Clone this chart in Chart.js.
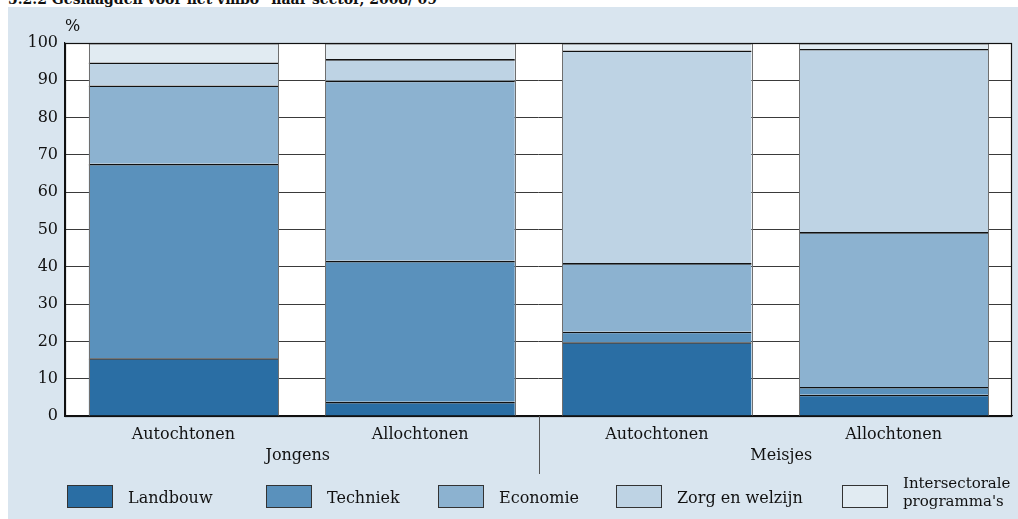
<!DOCTYPE html>
<html>
<head>
<meta charset="utf-8">
<script src="https://cdn.jsdelivr.net/npm/chart.js@4/dist/chart.umd.min.js"></script>
<style>
  html, body { margin: 0; padding: 0; background: #ffffff; }
  #wrap { position: relative; width: 1018px; height: 519px; overflow: hidden; }
  #panel { position: absolute; left: 8px; top: 7px; width: 1010px; height: 512px; background: #d9e5ef; }
  #title { position: absolute; left: 8px; top: -9px; font: bold 14px "DejaVu Serif", serif; color: #111; white-space: nowrap; }
  #c { position: absolute; left: 0; top: 0; }
</style>
</head>
<body>
<div id="wrap">
  <div id="panel"></div>
  <div id="title">5.2.2 Geslaagden voor het vmbo* naar sector, 2008/'09</div>
  <canvas id="c" width="1018" height="519"></canvas>
</div>
<script>
const categories = ["Autochtonen", "Allochtonen", "Autochtonen", "Allochtonen"];
const groups = ["Jongens", "Meisjes"];
const seriesNames = ["Landbouw", "Techniek", "Economie", "Zorg en welzijn", "Intersectorale\nprogramma's"];
const landbouw = [15.5, 3.8, 19.8, 5.7];
const techniek = [52.1, 37.8, 2.8, 2.1];
const economie = [21.0, 48.3, 18.4, 41.5];
const zorg = [6.2, 5.8, 57.0, 49.1];
const intersectoraal = [5.2, 4.3, 2.0, 1.6];
const yTicks = [0, 10, 20, 30, 40, 50, 60, 70, 80, 90, 100];
const colors = ["#2a6ea4", "#5a91bc", "#8cb2d0", "#bed3e4", "#e1ebf2"];

const FONT = '"DejaVu Serif", serif';
const FS = 16;
const allSeries = [landbouw, techniek, economie, zorg, intersectoraal];

const datasets = allSeries.map((d, i) => ({
  label: seriesNames[i],
  data: d,
  backgroundColor: colors[i],
  borderColor: "#111111",
  borderWidth: { top: 1.6, bottom: 0, left: 0, right: 0 },
  borderSkipped: false,
  categoryPercentage: 1.0,
  barPercentage: 0.8
}));

const decor = {
  id: "decor",
  beforeDraw(chart) {
    const { ctx, chartArea: a } = chart;
    ctx.save();
    ctx.fillStyle = "#ffffff";
    ctx.fillRect(a.left, a.top, a.right - a.left, a.bottom - a.top);
    ctx.restore();
  },
  afterDatasetsDraw(chart) {
    const { ctx } = chart;
    ctx.save();
    ctx.strokeStyle = "#6f6f6f";
    ctx.lineWidth = 1;
    const metaTop = chart.getDatasetMeta(chart.data.datasets.length - 1);
    const metaBot = chart.getDatasetMeta(0);
    metaTop.data.forEach((el, j) => {
      const bot = metaBot.data[j];
      const half = el.width / 2;
      [el.x - half, el.x + half].forEach(px => {
        const xx = Math.round(px) + 0.5;
        ctx.beginPath();
        ctx.moveTo(xx, el.y);
        ctx.lineTo(xx, bot.base);
        ctx.stroke();
      });
    });
    ctx.restore();
  },
  afterDraw(chart) {
    const { ctx, chartArea: a, scales } = chart;
    const x = scales.x;
    ctx.save();
    ctx.strokeStyle = "#111";
    ctx.lineWidth = 1.2;
    ctx.strokeRect(a.left + 0.5, a.top + 0.5, a.right - a.left - 1, a.bottom - a.top);
    ctx.fillStyle = "#111";
    ctx.font = FS + "px " + FONT;
    ctx.textAlign = "left";
    ctx.textBaseline = "middle";
    ctx.fillText("%", a.left, 27);
    ctx.textAlign = "center";
    const g1 = (x.getPixelForValue(0) + x.getPixelForValue(1)) / 2;
    const g2 = (x.getPixelForValue(2) + x.getPixelForValue(3)) / 2;
    ctx.fillText(groups[0], g1 - 4, 456);
    ctx.fillText(groups[1], g2 + 6, 456);
    const sx = Math.round((x.getPixelForValue(1) + x.getPixelForValue(2)) / 2) + 0.5;
    ctx.strokeStyle = "#555";
    ctx.lineWidth = 1;
    ctx.beginPath();
    ctx.moveTo(sx, a.bottom);
    ctx.lineTo(sx, 474);
    ctx.stroke();
    const boxX = [67, 266, 438, 616, 842];
    chart.data.datasets.forEach((ds, i) => {
      const bx = boxX[i];
      ctx.fillStyle = ds.backgroundColor;
      ctx.fillRect(bx, 485, 46, 23);
      ctx.strokeStyle = "#333";
      ctx.lineWidth = 1;
      ctx.strokeRect(bx + 0.5, 485.5, 45, 22);
      ctx.fillStyle = "#111";
      ctx.textAlign = "left";
      const lines = ds.label.split("\n");
      if (lines.length === 1) {
        ctx.font = FS + "px " + FONT;
        ctx.fillText(lines[0], bx + 61, 499);
      } else {
        ctx.font = "15px " + FONT;
        ctx.fillText(lines[0], bx + 61, 484);
        ctx.fillText(lines[1], bx + 61, 502);
      }
    });
    ctx.restore();
  }
};

new Chart(document.getElementById("c"), {
  type: "bar",
  data: { labels: categories, datasets },
  options: {
    responsive: false,
    animation: false,
    layout: { padding: { left: 0, right: 6, top: 43, bottom: 0 } },
    plugins: { legend: { display: false }, tooltip: { enabled: false }, title: { display: false } },
    scales: {
      x: {
        stacked: true,
        grid: { display: false, drawTicks: false },
        border: { display: true, color: "#111", width: 1.2 },
        ticks: { color: "#111", font: { family: FONT, size: FS }, padding: 9, maxRotation: 0 },
        afterFit(s) { s.height = 103; }
      },
      y: {
        stacked: true,
        min: 0, max: 100,
        afterBuildTicks(s) { s.ticks = yTicks.map(v => ({ value: v })); },
        grid: { color: "#3a3a3a", lineWidth: 1, drawTicks: false },
        border: { display: true, color: "#111", width: 1.2 },
        ticks: { color: "#111", font: { family: FONT, size: FS }, padding: 7 },
        afterFit(s) { s.width = 65; }
      }
    }
  },
  plugins: [decor]
});
</script>
</body>
</html>
